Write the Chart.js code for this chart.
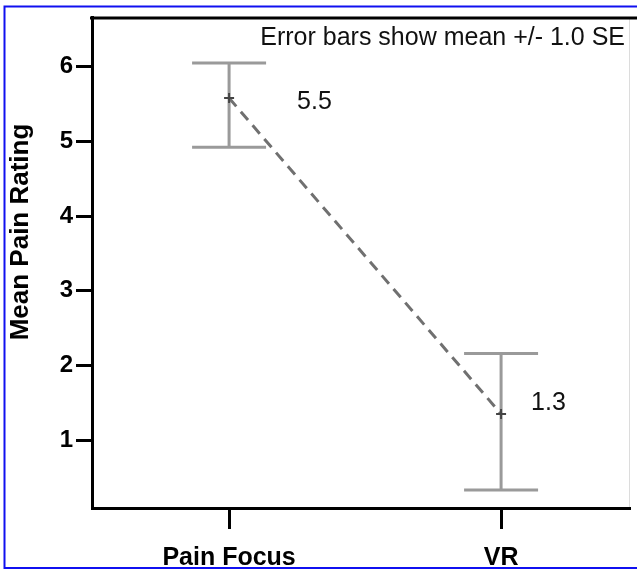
<!DOCTYPE html>
<html><head><meta charset="utf-8">
<script src="https://cdn.jsdelivr.net/npm/chart.js@4/dist/chart.umd.min.js"></script>
<style>html,body{margin:0;padding:0;background:#fff;}#wrap{width:637px;height:570px;position:relative}canvas{display:block}</style>
</head><body><div id="wrap"><canvas id="c" width="637" height="570"></canvas></div>
<script>
// ---- data ----
const categories = ['Pain Focus', 'VR'];
const means = [5.58, 1.35];
const seUpper = [6.05, 2.16];
const seLower = [4.92, 0.33];
const meanLabels = ['5.5', '1.3'];
const yTicks = [1, 2, 3, 4, 5, 6];
const noteText = 'Error bars show mean +/- 1.0 SE';
const yTitle = 'Mean Pain Rating';

// ---- styling ----
const FONT = '"Liberation Sans", Arial, sans-serif';
const labelOffsets = [[68, 4], [30, -11]];
const capHalf = 37;

const points = categories.map((c, i) => ({ x: i, y: means[i] }));

const decor = {
  id: 'decor',
  beforeDraw(chart) {
    const ctx = chart.ctx, a = chart.chartArea;
    ctx.save();
    ctx.fillStyle = '#fff';
    ctx.fillRect(0, 0, chart.width, chart.height);
    // blue outer border
    ctx.strokeStyle = '#1010f0';
    ctx.lineWidth = 2;
    ctx.beginPath();
    ctx.moveTo(640, 6.5); ctx.lineTo(4.5, 6.5); ctx.lineTo(4.5, 568); ctx.lineTo(640, 568);
    ctx.stroke();
    // faint right edge of plot
    ctx.strokeStyle = '#dcdcdc';
    ctx.lineWidth = 1;
    ctx.beginPath(); ctx.moveTo(a.right - 0.5, a.top); ctx.lineTo(a.right - 0.5, a.bottom); ctx.stroke();
    ctx.restore();
  },
  beforeDatasetsDraw(chart) {
    const ctx = chart.ctx, xs = chart.scales.x, ys = chart.scales.y;
    ctx.save();
    ctx.strokeStyle = '#9a9a9a';
    ctx.lineWidth = 3;
    categories.forEach((c, i) => {
      const px = xs.getPixelForValue(i);
      const top = ys.getPixelForValue(seUpper[i]);
      const bot = ys.getPixelForValue(seLower[i]);
      ctx.beginPath();
      ctx.moveTo(px, top); ctx.lineTo(px, bot);
      ctx.moveTo(px - capHalf, top); ctx.lineTo(px + capHalf, top);
      ctx.moveTo(px - capHalf, bot); ctx.lineTo(px + capHalf, bot);
      ctx.stroke();
    });
    ctx.restore();
  },
  afterDraw(chart) {
    const ctx = chart.ctx, a = chart.chartArea, xs = chart.scales.x, ys = chart.scales.y;
    ctx.save();
    // top frame line
    ctx.strokeStyle = '#000';
    ctx.lineWidth = 3;
    ctx.beginPath(); ctx.moveTo(a.left - 2, a.top + 0.5); ctx.lineTo(chart.width, a.top + 0.5); ctx.stroke();
    // note
    ctx.fillStyle = '#111';
    ctx.font = '25px ' + FONT;
    ctx.textAlign = 'right';
    ctx.textBaseline = 'alphabetic';
    ctx.fillText(noteText, 625, 45);
    // value labels
    ctx.textAlign = 'left';
    ctx.textBaseline = 'middle';
    meanLabels.forEach((t, i) => {
      ctx.fillText(t, xs.getPixelForValue(i) + labelOffsets[i][0], ys.getPixelForValue(means[i]) + labelOffsets[i][1]);
    });
    // y title
    ctx.translate(21, 232);
    ctx.rotate(-Math.PI / 2);
    ctx.textAlign = 'center';
    ctx.font = 'bold 26px ' + FONT;
    ctx.fillStyle = '#000';
    ctx.fillText(yTitle, 0, 0);
    ctx.restore();
  }
};

new Chart(document.getElementById('c'), {
  type: 'line',
  data: {
    datasets: [{
      data: points,
      borderColor: '#707070',
      borderWidth: 3,
      borderDash: [11, 7],
      pointStyle: 'cross',
      pointRadius: 5,
      pointBorderColor: '#444',
      pointBorderWidth: 2,
      fill: false
    }]
  },
  options: {
    responsive: false,
    animation: false,
    devicePixelRatio: 1,
    layout: { padding: { top: 13, right: 3, left: 0, bottom: 0 } },
    plugins: { legend: { display: false }, tooltip: { enabled: false } },
    scales: {
      x: {
        type: 'linear',
        min: -0.504, max: 1.474,
        afterFit(s) { s.height = 62; },
        afterBuildTicks(s) { s.ticks = categories.map((c, i) => ({ value: i })); },
        grid: { drawOnChartArea: false, tickLength: 21, tickWidth: 3, tickColor: '#000' },
        border: { color: '#000', width: 3 },
        ticks: {
          callback: (v) => categories[v],
          color: '#000',
          font: { family: FONT, size: 25, weight: 'bold' },
          padding: 14,
          maxRotation: 0
        }
      },
      y: {
        min: 0.09, max: 6.66,
        afterFit(s) { s.width = 92; },
        afterBuildTicks(s) { s.ticks = yTicks.map(v => ({ value: v })); },
        grid: { drawOnChartArea: false, tickLength: 16, tickWidth: 3, tickColor: '#000' },
        border: { color: '#000', width: 3 },
        ticks: {
          color: '#000',
          font: { family: FONT, size: 24, weight: 'bold' },
          padding: 3
        }
      }
    }
  },
  plugins: [decor]
});
</script>
</body></html>
